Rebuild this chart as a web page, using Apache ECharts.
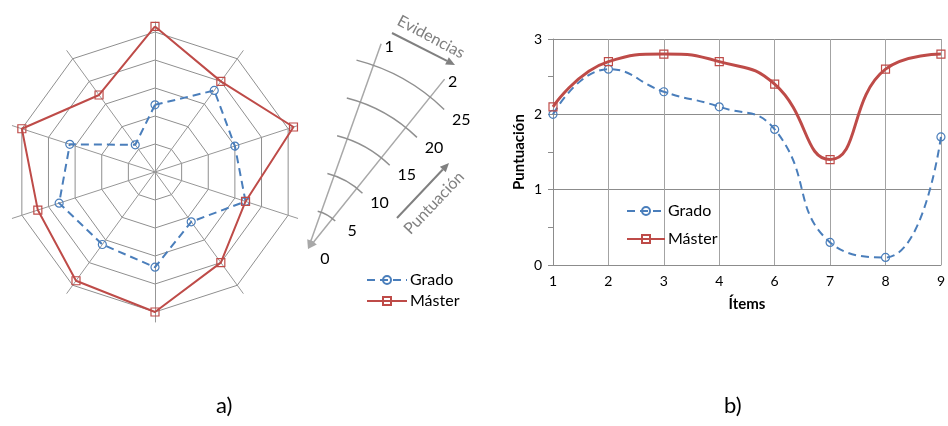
<!DOCTYPE html>
<html>
<head>
<meta charset="utf-8">
<script src="https://cdn.jsdelivr.net/npm/echarts@6/dist/echarts.min.js"></script>
<style>
  html, body { margin: 0; padding: 0; background: #fff; }
  #chart { width: 948px; height: 426px; }
</style>
</head>
<body>
<div id="chart"></div>
<script>
// a) 雷达图：指标按顺时针 1..10
var radarItems = ['1', '2', '3', '4', '5', '6', '7', '8', '9', '10'];
var gradoRadar = [12, 18, 15, 17, 11, 17, 16, 18, 16, 6];
var masterRadar = [26, 20, 26, 17, 20, 25, 24, 22, 25, 17];
var radarMax = 25;

// b) 折线图
var items = ['1', '2', '3', '4', '6', '7', '8', '9'];
var gradoLine = [2.0, 2.6, 2.3, 2.1, 1.8, 0.3, 0.1, 1.7];
var masterLine = [2.1, 2.7, 2.8, 2.7, 2.4, 1.4, 2.6, 2.8];
var yTicks = [0, 1, 2, 3];

// 说明小图的刻度
var wedgeTicks = ['0', '5', '10', '15', '20', '25'];
var wedgeAxes = ['1', '2'];

var FONT = 'Lato';
var BLUE = '#4a7ebb';
var RED = '#be4b48';

function workNum () {
  // echarts 雷达默认逆时针排列，这里换成顺时针
  var order = radarItems.map(function (_, i) { return (radarItems.length - i) % radarItems.length; });

  // 说明图的几何
  var O = [308, 249];
  var spokeAng = [19.6, 38.8];
  var spokeLen = 218;
  var ringStep = 39;
  var arcFrom = 14.4, arcTo = 44.3;
  function pt (r, deg) {
    var a = deg * Math.PI / 180;
    return [O[0] + r * Math.sin(a), O[1] - r * Math.cos(a)];
  }
  function arrow (x1, y1, x2, y2, color, w, head) {
    var dx = x2 - x1, dy = y2 - y1, len = Math.sqrt(dx * dx + dy * dy);
    var ux = dx / len, uy = dy / len;
    var bx = x2 - ux * head, by = y2 - uy * head;
    var hw = head * 0.45;
    return [
      { type: 'line', shape: { x1: x1, y1: y1, x2: bx, y2: by }, style: { stroke: color, lineWidth: w } },
      { type: 'polygon', shape: { points: [[x2, y2], [bx - uy * hw, by + ux * hw], [bx + uy * hw, by - ux * hw]] }, style: { fill: color } }
    ];
  }

  var graphics = [];
  spokeAng.forEach(function (ang, i) {
    var end = pt(spokeLen, ang);
    graphics = graphics.concat(arrow(end[0], end[1], O[0], O[1], '#a8a8a8', 1.5, 9));
    graphics.push({
      type: 'text', x: end[0] + 8, y: end[1] + 3,
      style: { text: wedgeAxes[i], fill: '#000', font: '16px ' + FONT, align: 'center', verticalAlign: 'middle' }
    });
  });
  for (var k = 1; k < wedgeTicks.length; k++) {
    graphics.push({
      type: 'arc',
      shape: { cx: O[0], cy: O[1], r: k * ringStep, startAngle: (arcFrom - 90) * Math.PI / 180, endAngle: (arcTo - 90) * Math.PI / 180, clockwise: true },
      style: { stroke: '#909090', lineWidth: 1.5, fill: null }
    });
  }
  wedgeTicks.forEach(function (t, k) {
    var p = pt(k * ringStep, arcTo);
    graphics.push({
      type: 'text', x: p[0] + 17, y: p[1] + 10,
      style: { text: t, fill: '#000', font: '16px ' + FONT, align: 'center', verticalAlign: 'middle' }
    });
  });
  graphics = graphics.concat(arrow(392, 33, 455, 65, '#808080', 2, 9));
  graphics = graphics.concat(arrow(397, 218, 449, 163, '#808080', 2, 9));
  graphics.push({
    type: 'text', x: 431, y: 37, rotation: -28 * Math.PI / 180,
    style: { text: 'Evidencias', fill: '#808080', font: '16px ' + FONT, align: 'center', verticalAlign: 'middle' }
  });
  graphics.push({
    type: 'text', x: 434, y: 203, rotation: 46.5 * Math.PI / 180,
    style: { text: 'Puntuación', fill: '#808080', font: '16px ' + FONT, align: 'center', verticalAlign: 'middle' }
  });

  var myChart = echarts.init(document.getElementById('chart'));
  var option = {
    animation: false,
    textStyle: { fontFamily: FONT },
    title: [
      { text: 'a)', left: 216, top: 395, padding: 0, textStyle: { fontSize: 22, fontWeight: 'normal', color: '#000', fontFamily: FONT } },
      { text: 'b)', left: 724, top: 395, padding: 0, textStyle: { fontSize: 22, fontWeight: 'normal', color: '#000', fontFamily: FONT } }
    ],
    legend: [
      {
        data: ['Grado', 'Máster'], orient: 'vertical', left: 626, top: 203,
        itemWidth: 38, itemHeight: 10, itemGap: 12, padding: 0,
        textStyle: { fontSize: 16, color: '#000', fontFamily: FONT, padding: [0, 0, 0, -2] }
      },
      {
        data: ['Grado', 'Máster'], orient: 'vertical', left: 366, top: 272,
        itemWidth: 40, itemHeight: 10, itemGap: 5, padding: 0,
        textStyle: { fontSize: 16, color: '#000', fontFamily: FONT, padding: [0, 0, 0, -2] }
      }
    ],
    radar: [
      {
        center: [155, 172], radius: 140, startAngle: 90, splitNumber: 5, shape: 'polygon',
        indicator: order.map(function (i) { return { name: radarItems[i], min: 0, max: radarMax }; }),
        axisName: { show: false },
        axisLine: { show: false },
        splitLine: { lineStyle: { color: '#8f8f8f', width: 1 } },
        splitArea: { show: false }
      },
      {
        center: [155, 172], radius: 150, startAngle: 90, splitNumber: 5, shape: 'polygon',
        indicator: order.map(function (i) { return { name: radarItems[i], min: 0, max: radarMax }; }),
        axisName: { show: false },
        axisLine: { lineStyle: { color: '#979797', width: 1 } },
        splitLine: { show: false },
        splitArea: { show: false }
      }
    ],
    grid: { left: 553, right: 4, top: 39, bottom: 161 },
    xAxis: {
      type: 'category', data: items, boundaryGap: false,
      axisLine: { lineStyle: { color: '#8c8c8c' } },
      axisTick: { show: false },
      axisLabel: { interval: 0, color: '#000', fontSize: 14, margin: 9, fontFamily: FONT },
      splitLine: { show: true, lineStyle: { color: '#a3a3a3', width: 1 } },
      name: 'Ítems', nameLocation: 'middle', nameGap: 32,
      nameTextStyle: { fontWeight: 'bold', fontSize: 15, color: '#000', fontFamily: FONT }
    },
    yAxis: {
      type: 'value', min: yTicks[0], max: yTicks[yTicks.length - 1], interval: 1,
      axisLine: { show: true, lineStyle: { color: '#8c8c8c' } },
      axisTick: { show: true, length: 5, lineStyle: { color: '#8c8c8c' } },
      minorTick: { show: true, splitNumber: 2, length: 5, lineStyle: { color: '#8c8c8c' } },
      axisLabel: { color: '#000', fontSize: 14, margin: 11, fontFamily: FONT },
      splitLine: { lineStyle: { color: '#8c8c8c', width: 1 } },
      name: 'Puntuación', nameLocation: 'middle', nameRotate: 90, nameGap: 26,
      nameTextStyle: { fontWeight: 'bold', fontSize: 15, color: '#000', fontFamily: FONT }
    },
    graphic: graphics,
    series: [
      {
        name: 'Grado', type: 'line', data: gradoLine, smooth: 0.5,
        symbol: 'circle', symbolSize: 8,
        lineStyle: { color: BLUE, width: 2, type: [8, 5] },
        itemStyle: { color: 'rgba(255,255,255,0)', borderColor: BLUE, borderWidth: 1.2 }
      },
      {
        name: 'Máster', type: 'line', data: masterLine, smooth: 0.5,
        symbol: 'rect', symbolSize: 8,
        lineStyle: { color: RED, width: 3 },
        itemStyle: { color: 'rgba(255,255,255,0)', borderColor: RED, borderWidth: 1.2 }
      },
      {
        type: 'radar', radarIndex: 0,
        data: [
          {
            name: 'Grado', value: order.map(function (i) { return gradoRadar[i]; }),
            symbol: 'circle', symbolSize: 8,
            lineStyle: { color: BLUE, width: 2, type: [8, 5] },
            itemStyle: { color: 'rgba(255,255,255,0)', borderColor: BLUE, borderWidth: 1.2 }
          },
          {
            name: 'Máster', value: order.map(function (i) { return masterRadar[i]; }),
            symbol: 'rect', symbolSize: 8,
            lineStyle: { color: RED, width: 2 },
            itemStyle: { color: 'rgba(255,255,255,0)', borderColor: RED, borderWidth: 1.2 }
          }
        ]
      }
    ]
  };
  myChart.setOption(option);
  window.addEventListener('resize', function () {
    myChart.resize();
  });
}
workNum();
</script>
</body>
</html>
